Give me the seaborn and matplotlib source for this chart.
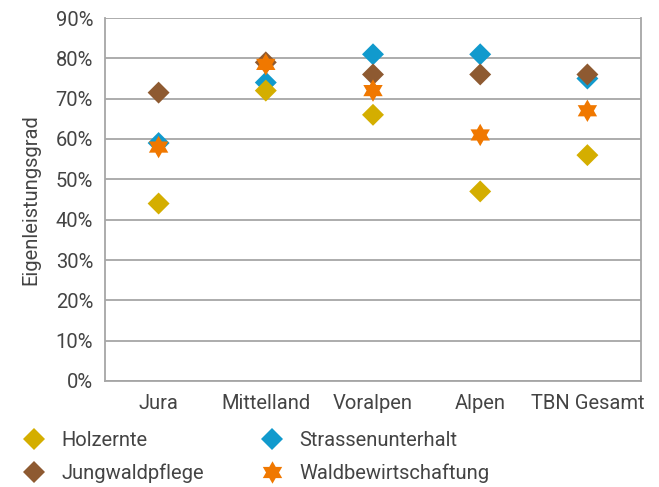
import matplotlib
matplotlib.use("Agg")
import matplotlib.pyplot as plt
import seaborn as sns
import pandas as pd
import numpy as np
from matplotlib.ticker import PercentFormatter

# ---- data ----
regions = ["Jura", "Mittelland", "Voralpen", "Alpen", "TBN Gesamt"]
holzernte = [44, 72, 66, 47, 56]
jungwaldpflege = [71.5, 79, 76, 76, 76]
strassenunterhalt = [59, 74, 81, 81, 75]
waldbewirtschaftung = [58, 78.5, 72, 61, 67]
series_names = ["Holzernte", "Jungwaldpflege", "Strassenunterhalt", "Waldbewirtschaftung"]
yticks = [0, 10, 20, 30, 40, 50, 60, 70, 80, 90]

values = {
    "Holzernte": holzernte,
    "Jungwaldpflege": jungwaldpflege,
    "Strassenunterhalt": strassenunterhalt,
    "Waldbewirtschaftung": waldbewirtschaftung,
}
draw_order = ["Strassenunterhalt", "Holzernte", "Jungwaldpflege", "Waldbewirtschaftung"]
rows = []
for s in draw_order:
    for r, v in zip(regions, values[s]):
        rows.append({"Region": r, "Wert": v, "Serie": s})
df = pd.DataFrame(rows)

# ---- style ----
sns.set_theme(style="white")
plt.rcParams["font.family"] = ["Roboto", "DejaVu Sans"]
text_color = "#444444"
grid_color = "#A6A6A6"
fs = 14.5

palette = {
    "Holzernte": "#D4AE00",
    "Jungwaldpflege": "#8E5A31",
    "Strassenunterhalt": "#119ACD",
    "Waldbewirtschaftung": "#F07800",
}
r_o, r_i = 1.0, 1.0 / np.sqrt(3)
star = []
for k in range(12):
    ang = np.deg2rad(90 + 30 * k)
    rr = r_o if k % 2 == 0 else r_i
    star.append((rr * np.cos(ang), rr * np.sin(ang)))
star.append(star[0])
markers = {
    "Holzernte": "D",
    "Jungwaldpflege": "D",
    "Strassenunterhalt": "D",
    "Waldbewirtschaftung": star,
}
sizes = {
    "Holzernte": 125,
    "Jungwaldpflege": 125,
    "Strassenunterhalt": 125,
    "Waldbewirtschaftung": 260,
}

fig = plt.figure(figsize=(6.59, 4.87), dpi=100)
ax = fig.add_axes([105 / 659, 1 - 381 / 487, (641 - 105) / 659, (381 - 18) / 487])

sns.scatterplot(
    data=df, x="Region", y="Wert", hue="Serie", style="Serie", size="Serie",
    hue_order=series_names, style_order=series_names, size_order=series_names,
    palette=palette, markers=markers, sizes=sizes, linewidth=0, ax=ax, zorder=3,
)

ax.set_xlim(-0.5, len(regions) - 0.5)
ax.set_ylim(0, 90)
ax.set_yticks(yticks)
ax.yaxis.set_major_formatter(PercentFormatter(100, decimals=0))
ax.grid(axis="y", color=grid_color, linewidth=1.3)
ax.set_axisbelow(True)
for side in ["left", "bottom", "right"]:
    ax.spines[side].set_visible(True)
    ax.spines[side].set_color(grid_color)
    ax.spines[side].set_linewidth(1.3)
ax.spines["top"].set_visible(False)
ax.tick_params(axis="both", which="major", length=3.6, width=1.3, color=grid_color,
               labelsize=fs, labelcolor=text_color, pad=5)
ax.tick_params(axis="x", pad=6)
ax.set_xlabel("")
ax.set_ylabel("Eigenleistungsgrad", fontsize=fs, color=text_color)
ax.yaxis.set_label_coords((40 - 105) / 536, 0.5)

handles, labels = ax.get_legend_handles_labels()
hmap = dict(zip(labels, handles))
ax.legend(
    [hmap[s] for s in series_names], series_names,
    loc="upper left", bbox_to_anchor=(24 / 659, 1 - 431 / 487), bbox_transform=fig.transFigure,
    ncol=2, frameon=False, fontsize=fs, labelcolor=text_color,
    handlelength=1.0, handletextpad=0.85, columnspacing=2.9, labelspacing=0.66, borderpad=0,
    borderaxespad=0,
)

fig.savefig("out.png", dpi=100)
